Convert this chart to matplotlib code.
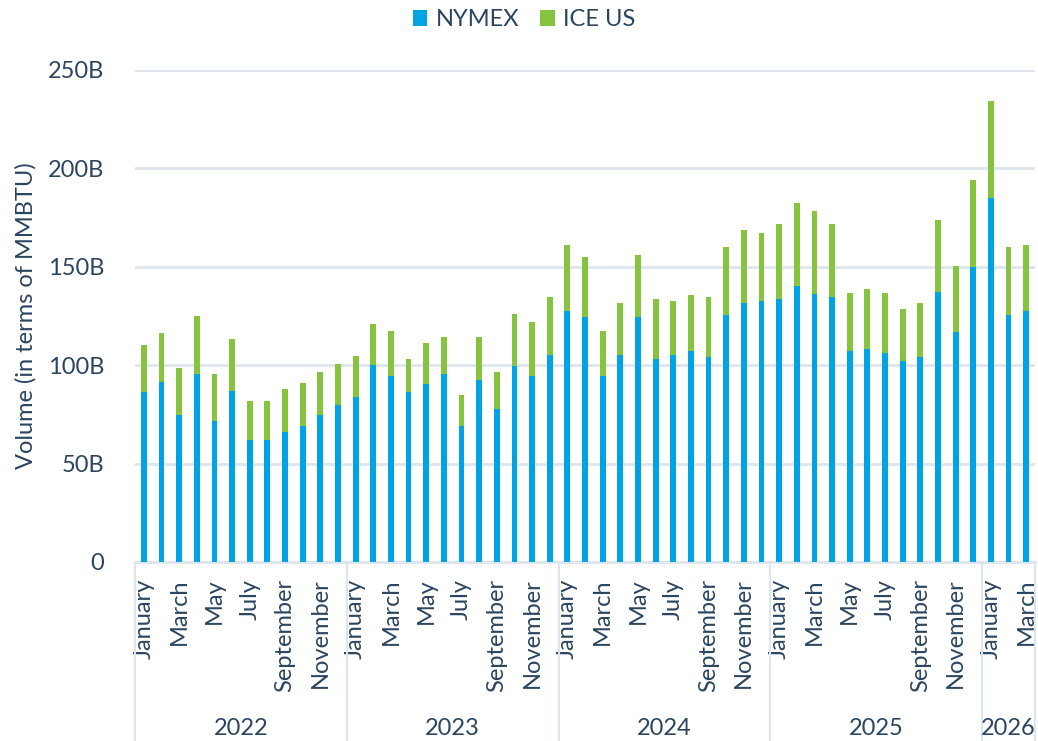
import matplotlib.pyplot as plt
import matplotlib.transforms as mtransforms
from matplotlib.ticker import FuncFormatter

plt.rcParams['font.family'] = ['Lato', 'DejaVu Sans']

# monthly volumes, billions of MMBTU (Jan 2022 .. Mar 2026)
years = ['2022', '2023', '2024', '2025', '2026']
months_per_year = [12, 12, 12, 12, 3]
month_names = ['January', 'February', 'March', 'April', 'May', 'June', 'July',
               'August', 'September', 'October', 'November', 'December']

nymex = [86.5, 91.6, 74.7, 95.5, 71.6, 87.0, 62.2, 62.2, 66.2, 69.3, 74.7, 79.8,
         83.8, 100.1, 94.5, 86.4, 90.4, 95.5, 69.1, 92.5, 77.7, 99.6, 94.5, 105.2,
         127.5, 124.5, 94.5, 105.2, 124.5, 103.2, 105.2, 107.2, 104.2, 125.5, 131.6, 132.6,
         133.6, 140.2, 136.2, 134.7, 107.2, 108.2, 106.2, 102.1, 104.2, 137.2, 116.9, 149.9,
         185.0, 125.5, 127.5]
total = [110.3, 116.4, 98.6, 125.0, 95.5, 113.3, 81.8, 81.8, 87.9, 91.0, 96.5, 100.6,
         104.7, 120.9, 117.4, 103.2, 111.3, 114.3, 84.9, 114.3, 96.5, 126.0, 122.0, 134.7,
         161.1, 155.0, 117.4, 131.6, 156.0, 133.6, 132.6, 135.7, 134.7, 160.1, 168.7, 167.2,
         171.7, 182.4, 178.4, 171.7, 136.7, 138.7, 136.7, 128.6, 131.6, 173.8, 150.4, 194.1,
         234.2, 160.1, 161.1]
ice = [t - n for t, n in zip(total, nymex)]

text_color = '#2b4560'
grid_color = '#dde5ee'

labels = []
for n in months_per_year:
    for m in range(n):
        labels.append(month_names[m] if m % 2 == 0 else '')
x = list(range(len(nymex)))

fig = plt.figure(figsize=(10.38, 7.41), dpi=100)
ax = fig.add_axes([135 / 1038, 179 / 741, 900 / 1038, 492 / 741])

ax.bar(x, nymex, width=0.33, color='#00a3e4', label='NYMEX', zorder=3)
ax.bar(x, ice, width=0.33, bottom=nymex, color='#86c440', label='ICE US', zorder=3)

ax.set_xlim(-0.5, len(x) - 0.5)
ax.set_ylim(0, 250)
ax.set_yticks([0, 50, 100, 150, 200, 250])
ax.yaxis.set_major_formatter(FuncFormatter(lambda v, p: '0' if v == 0 else f'{int(v)}B'))
ax.grid(axis='y', color=grid_color, linewidth=2, zorder=0)
ax.tick_params(axis='y', length=0, pad=22, labelsize=17, labelcolor=text_color)
ax.set_xticks(x)
ax.set_xticklabels(labels, rotation=90, va='top', ha='center')
ax.tick_params(axis='x', length=0, pad=12, labelsize=17, labelcolor=text_color)

for s in ['left', 'right', 'top']:
    ax.spines[s].set_visible(False)
ax.spines['bottom'].set_color(grid_color)
ax.spines['bottom'].set_linewidth(2)

ax.set_ylabel('Volume (in terms of MMBTU)', fontsize=17, color=text_color, labelpad=8)

# year groups below the month labels
trans = mtransforms.blended_transform_factory(ax.transData, ax.transAxes)
start = 0
bounds = [-0.5]
for yr, n in zip(years, months_per_year):
    ax.text(start + (n - 1) / 2, -0.338, yr, transform=trans, ha='center', va='center',
            fontsize=17, color=text_color)
    start += n
    bounds.append(start - 0.5)
for b in bounds:
    ax.plot([b, b], [0, -0.37], transform=trans, color=grid_color, linewidth=1.5,
            clip_on=False)

fig.legend(loc='upper center', bbox_to_anchor=(0.505, 1.0), ncol=2, frameon=False,
           fontsize=17, labelcolor=text_color, handlelength=0.6, handleheight=0.7,
           handletextpad=0.35, columnspacing=0.9, borderaxespad=0.0)

fig.savefig('out.png', dpi=100)
